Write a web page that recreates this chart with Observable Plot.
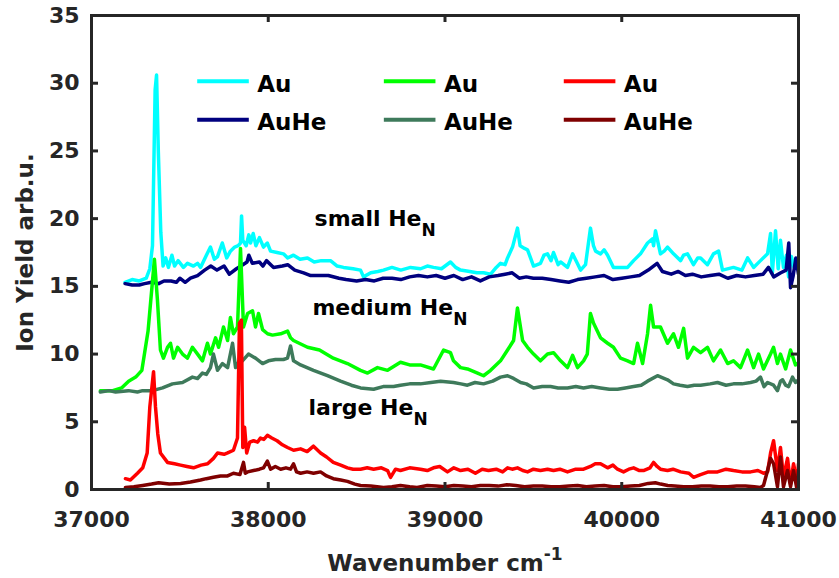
<!DOCTYPE html>
<html><head><meta charset="utf-8">
<script src="https://cdn.jsdelivr.net/npm/d3@7"></script>
<script src="https://cdn.jsdelivr.net/npm/@observablehq/plot@0.6"></script>
<style>body{margin:0;background:#fff;}</style>
</head><body><div id="chart"></div>
<script>
// ---- data: [wavenumber cm^-1, ion yield arb.u.] ----
const auSmall = [[37190,15.3],[37230,15.5],[37270,15.4],[37310,15.6],[37330,16.3],[37345,18.0],[37360,29.5],[37368,30.6],[37378,25.0],[37392,19.0],[37405,16.5],[37420,17.1],[37435,16.4],[37455,17.3],[37470,16.5],[37490,16.9],[37520,16.4],[37543,16.7],[37577,16.5],[37600,16.7],[37617,16.4],[37650,17.3],[37673,17.9],[37695,17.0],[37713,17.2],[37740,18.2],[37765,17.1],[37786,17.6],[37810,17.9],[37830,18.0],[37843,18.2],[37849,20.2],[37856,18.4],[37875,18.0],[37890,18.8],[37900,18.2],[37915,18.9],[37930,18.0],[37950,18.6],[37973,17.9],[37995,18.2],[38013,17.6],[38050,17.5],[38086,17.4],[38110,17.1],[38143,17.3],[38180,17.0],[38222,17.1],[38260,16.8],[38300,16.9],[38352,16.9],[38390,16.5],[38426,16.4],[38480,16.3],[38522,16.2],[38539,15.7],[38580,16.0],[38620,16.1],[38652,16.2],[38700,16.4],[38750,16.2],[38805,16.4],[38862,16.3],[38900,16.5],[38935,16.4],[38980,16.3],[39031,16.8],[39060,16.4],[39088,16.2],[39140,16.1],[39180,16.0],[39218,16.0],[39258,15.9],[39290,16.4],[39314,16.7],[39340,16.6],[39354,17.1],[39382,17.9],[39410,19.3],[39425,18.0],[39450,17.8],[39467,17.7],[39501,16.5],[39540,16.7],[39560,17.3],[39580,17.4],[39600,16.9],[39614,17.5],[39640,16.6],[39654,16.8],[39693,16.4],[39722,17.4],[39745,16.8],[39767,16.2],[39795,16.6],[39823,19.3],[39840,18.0],[39852,17.6],[39880,17.4],[39900,17.7],[39920,17.3],[39953,16.4],[39993,16.4],[40033,16.4],[40067,16.9],[40106,17.4],[40146,18.2],[40174,18.5],[40180,18.0],[40191,19.1],[40219,17.4],[40240,17.6],[40259,17.9],[40293,17.4],[40333,16.9],[40350,17.3],[40372,17.4],[40406,16.6],[40430,17.1],[40446,17.1],[40485,16.6],[40519,17.4],[40548,17.6],[40570,16.2],[40632,16.4],[40680,16.2],[40712,17.1],[40746,16.4],[40785,16.9],[40825,17.4],[40842,18.9],[40852,16.0],[40870,19.1],[40885,16.3],[40898,18.4],[40915,16.4],[40932,17.3],[40944,15.7],[40960,17.2],[40975,16.4],[40990,17.0],[41000,16.5]];

const auHeSmall = [[37190,15.2],[37230,15.1],[37270,15.1],[37300,15.2],[37340,15.3],[37380,15.2],[37410,15.4],[37450,15.4],[37480,15.3],[37500,15.6],[37530,15.3],[37560,15.6],[37600,15.8],[37640,16.2],[37675,16.5],[37710,16.2],[37750,16.5],[37780,15.9],[37820,16.3],[37845,16.5],[37880,16.8],[37890,17.3],[37910,16.7],[37950,16.8],[37970,16.5],[37990,16.9],[38030,16.4],[38080,16.5],[38110,16.6],[38150,16.2],[38200,16.0],[38240,15.8],[38300,15.8],[38340,15.8],[38400,15.6],[38440,15.5],[38500,15.4],[38550,15.5],[38600,15.4],[38650,15.6],[38700,15.6],[38750,15.5],[38800,15.7],[38850,15.8],[38900,15.7],[38950,15.8],[39000,15.6],[39050,15.8],[39100,15.5],[39150,15.7],[39200,15.4],[39250,15.7],[39300,15.8],[39340,15.9],[39380,16.0],[39420,15.6],[39460,15.7],[39500,15.6],[39550,15.6],[39600,15.5],[39650,15.4],[39700,15.3],[39750,15.5],[39800,15.6],[39850,15.7],[39900,15.8],[39950,15.5],[40000,15.6],[40050,15.7],[40100,15.8],[40150,16.2],[40200,16.7],[40230,16.1],[40280,15.9],[40320,16.1],[40360,15.8],[40400,15.9],[40450,15.7],[40500,15.8],[40550,15.9],[40600,15.6],[40650,15.8],[40700,15.7],[40750,15.8],[40800,15.9],[40830,16.4],[40860,15.7],[40900,16.0],[40930,16.2],[40945,18.2],[40955,14.9],[40970,15.8],[40985,17.1],[41000,15.9]];

const auMedium = [[37050,7.3],[37120,7.3],[37170,7.5],[37210,8.0],[37250,8.3],[37285,8.8],[37320,11.7],[37356,17.0],[37373,14.0],[37390,10.3],[37407,9.7],[37430,10.5],[37447,10.8],[37464,9.7],[37487,10.5],[37515,10.0],[37543,9.7],[37571,10.5],[37600,10.0],[37628,9.5],[37656,10.8],[37673,10.0],[37702,11.2],[37719,10.5],[37747,12.0],[37770,11.0],[37786,12.7],[37803,11.5],[37826,12.0],[37843,17.8],[37860,12.0],[37883,13.0],[37911,13.2],[37928,12.0],[37945,13.0],[37968,11.8],[37996,11.5],[38024,11.4],[38070,11.5],[38109,11.7],[38126,11.2],[38143,11.0],[38222,10.5],[38290,10.3],[38368,9.7],[38448,9.3],[38522,8.8],[38562,8.6],[38618,9.0],[38675,8.8],[38748,9.4],[38800,9.2],[38861,9.2],[38935,8.9],[38992,10.3],[39031,10.1],[39048,9.5],[39088,9.0],[39127,8.9],[39184,8.6],[39218,8.4],[39258,8.8],[39314,9.5],[39354,10.3],[39388,11.0],[39410,13.4],[39439,11.0],[39467,10.5],[39501,10.0],[39540,9.5],[39580,10.0],[39614,10.1],[39654,9.5],[39693,9.0],[39722,9.9],[39750,9.0],[39784,9.5],[39805,10.0],[39823,13.0],[39840,12.3],[39880,11.2],[39920,10.8],[39953,10.5],[39993,9.7],[40033,9.5],[40067,9.3],[40089,10.8],[40118,9.3],[40146,11.5],[40163,13.6],[40180,12.0],[40219,12.0],[40259,10.8],[40293,11.5],[40321,10.5],[40350,11.9],[40372,9.7],[40406,10.5],[40446,10.1],[40485,10.5],[40519,9.5],[40559,10.3],[40599,9.3],[40632,9.5],[40672,9.0],[40712,10.3],[40746,9.0],[40774,10.0],[40802,8.9],[40842,10.0],[40859,10.5],[40881,9.3],[40898,10.0],[40927,8.9],[40955,10.3],[40983,9.2],[41000,9.3]];

const auHeMedium = [[37050,7.2],[37100,7.3],[37136,7.2],[37209,7.3],[37260,7.2],[37289,7.3],[37345,7.3],[37402,7.5],[37458,7.8],[37515,7.9],[37571,8.3],[37600,8.2],[37628,8.6],[37650,8.5],[37673,9.0],[37690,10.0],[37713,8.8],[37741,9.3],[37770,9.0],[37798,10.8],[37815,9.0],[37840,9.6],[37854,9.5],[37888,10.0],[37928,9.7],[37968,9.3],[38001,9.5],[38041,9.6],[38086,9.6],[38109,9.7],[38126,10.6],[38143,9.5],[38183,9.2],[38256,8.8],[38335,8.4],[38409,8.0],[38470,7.7],[38522,7.5],[38596,7.4],[38650,7.6],[38709,7.6],[38748,7.7],[38800,7.8],[38861,7.8],[38920,7.9],[38975,8.0],[39048,7.9],[39090,7.8],[39127,7.7],[39170,7.9],[39218,7.8],[39270,8.0],[39314,8.3],[39354,8.4],[39388,8.2],[39428,7.9],[39460,7.8],[39501,7.5],[39550,7.6],[39597,7.6],[39640,7.5],[39693,7.5],[39740,7.6],[39784,7.5],[39830,7.6],[39880,7.5],[39930,7.4],[39976,7.4],[40020,7.5],[40067,7.6],[40110,7.7],[40146,8.0],[40202,8.4],[40259,8.1],[40293,7.8],[40330,7.7],[40372,7.6],[40410,7.7],[40446,7.7],[40500,7.8],[40542,7.9],[40590,7.7],[40632,7.8],[40680,7.8],[40729,7.9],[40760,8.0],[40785,8.3],[40805,7.6],[40825,7.9],[40859,7.7],[40881,7.3],[40898,8.0],[40910,8.1],[40927,7.7],[40944,7.6],[40966,8.3],[40983,7.9],[41000,8.1]];

const auLarge = [[37192,0.8],[37220,0.7],[37260,1.2],[37290,1.6],[37315,2.7],[37330,6.1],[37351,8.7],[37362,6.1],[37375,4.1],[37390,2.7],[37430,2.0],[37470,1.9],[37504,1.8],[37540,1.7],[37577,1.6],[37620,1.8],[37657,1.9],[37690,2.3],[37713,2.7],[37750,2.6],[37770,2.7],[37803,2.9],[37826,3.8],[37837,12.3],[37848,12.5],[37856,3.1],[37866,4.6],[37878,2.7],[37895,3.5],[37917,3.6],[37940,3.5],[37956,3.8],[37975,3.7],[37995,4.0],[38020,3.8],[38050,3.6],[38080,3.3],[38109,3.1],[38143,2.9],[38183,3.0],[38220,2.8],[38256,3.2],[38296,2.7],[38330,2.4],[38368,2.0],[38410,1.8],[38448,1.6],[38480,1.5],[38522,1.5],[38560,1.6],[38596,1.5],[38640,1.6],[38675,1.4],[38692,0.9],[38720,1.5],[38748,1.4],[38800,1.6],[38861,1.5],[38900,1.4],[38935,1.6],[38970,1.7],[39014,1.3],[39050,1.6],[39088,1.4],[39130,1.5],[39172,1.2],[39210,1.5],[39246,1.4],[39290,1.5],[39326,1.3],[39354,1.6],[39380,1.5],[39410,1.6],[39440,1.4],[39467,1.3],[39500,1.5],[39540,1.4],[39580,1.5],[39614,1.4],[39650,1.5],[39693,1.3],[39740,1.5],[39784,1.5],[39823,1.7],[39850,1.9],[39880,1.9],[39920,1.6],[39950,1.8],[39976,1.5],[40010,1.3],[40040,1.5],[40067,1.6],[40100,1.4],[40123,1.4],[40160,1.6],[40180,2.0],[40200,1.7],[40219,1.5],[40259,1.4],[40290,1.5],[40333,1.3],[40380,1.2],[40406,0.9],[40446,1.1],[40490,1.3],[40542,1.3],[40590,1.5],[40632,1.4],[40680,1.3],[40729,1.3],[40770,1.4],[40802,1.2],[40825,1.3],[40842,2.7],[40859,3.6],[40881,1.4],[40898,3.1],[40915,0.9],[40938,2.3],[40955,0.4],[40972,1.9],[40992,0.6],[41000,1.9]];

const auHeLarge = [[37192,0.15],[37240,0.2],[37290,0.3],[37340,0.4],[37380,0.5],[37440,0.4],[37504,0.45],[37560,0.55],[37617,0.7],[37650,0.8],[37690,0.9],[37730,1.0],[37770,1.0],[37803,1.2],[37840,1.1],[37860,2.0],[37870,1.2],[37883,1.3],[37917,1.4],[37950,1.5],[37973,1.6],[37995,2.1],[38013,1.5],[38040,1.7],[38070,1.5],[38100,1.6],[38126,1.5],[38143,1.9],[38160,1.3],[38183,1.2],[38220,1.3],[38256,1.2],[38296,1.3],[38330,1.0],[38368,0.8],[38410,0.7],[38448,0.6],[38490,0.4],[38522,0.3],[38580,0.25],[38652,0.15],[38700,0.2],[38748,0.3],[38800,0.2],[38842,0.15],[38900,0.3],[38950,0.25],[39000,0.2],[39050,0.3],[39100,0.25],[39150,0.2],[39200,0.3],[39250,0.3],[39300,0.25],[39350,0.35],[39400,0.3],[39450,0.2],[39500,0.25],[39550,0.25],[39600,0.2],[39650,0.2],[39700,0.25],[39750,0.3],[39800,0.2],[39850,0.25],[39900,0.3],[39950,0.2],[40000,0.2],[40050,0.25],[40100,0.3],[40150,0.45],[40190,0.5],[40220,0.4],[40260,0.3],[40300,0.25],[40350,0.2],[40400,0.2],[40450,0.25],[40500,0.25],[40550,0.2],[40600,0.2],[40650,0.25],[40700,0.25],[40750,0.2],[40785,0.15],[40802,0.3],[40825,1.4],[40842,2.3],[40859,1.9],[40881,0.2],[40898,2.4],[40915,0.2],[40938,1.4],[40955,0.2],[40972,1.4],[40990,0.1],[41000,1.4]];

const seriesNames = ["Au", "AuHe", "Au", "AuHe", "Au", "AuHe"];
const seriesColors = ["#00FFFF", "#00007F", "#00FF00", "#3E7A5B", "#FF0000", "#7F0000"];
const seriesData = [auSmall, auHeSmall, auMedium, auHeMedium, auLarge, auHeLarge];

const xTicks = [37000, 38000, 39000, 40000, 41000];
const yTicks = [0, 5, 10, 15, 20, 25, 30, 35];
const xLabel = "Wavenumber cm";
const yLabel = "Ion Yield arb.u.";
const annoLabels = ["small He", "medium He", "large He"];
const annoX = [38262, 38250, 38228];
const annoY = [20.0, 13.4, 6.0];

// legend layout (data units, inside the axes)
const legendColX = [37598, 38654, 39672];
const legendRowY = [30.15, 27.3];
const legendLineLen = 292, legendTextGap = 340;

// ---- chart ----
const W = 839, H = 578, mL = 91, mR = 41, mT = 15, mB = 89;
const fw = W - mL - mR, fh = H - mT - mB;
const xDom = [37000, 41000], yDom = [0, 35];
const axisColor = "#262626";
const tkPx = 7;
const tkX = tkPx * (xDom[1] - xDom[0]) / fw;   // tick length in x data units
const tkY = tkPx * (yDom[1] - yDom[0]) / fh;   // tick length in y data units

const marks = [];
seriesData.forEach((d, i) => {
  marks.push(Plot.line(d.map(([x, y]) => ({x, y})), {x: "x", y: "y", stroke: seriesColors[i], strokeWidth: 3.5, strokeLinejoin: "round", clip: true}));
});

const legendRows = seriesData.map((d, i) => {
  const c = Math.floor(i / 2), r = i % 2;
  return {x1: legendColX[c], x2: legendColX[c] + legendLineLen, y: legendRowY[r], tx: legendColX[c] + legendTextGap, label: seriesNames[i], color: seriesColors[i]};
});
legendRows.forEach(r => {
  marks.push(Plot.link([r], {x1: "x1", x2: "x2", y1: "y", y2: "y", stroke: r.color, strokeWidth: 4}));
});
marks.push(Plot.text(legendRows, {x: "tx", y: "y", text: "label", textAnchor: "start", lineAnchor: "middle", dy: 3, fontSize: 23, fill: "black", fontWeight: "bold"}));

marks.push(Plot.text(annoLabels.map((t, i) => ({t, x: annoX[i], y: annoY[i]})), {x: "x", y: "y", text: "t", textAnchor: "start", lineAnchor: "middle", fontSize: 22, fill: "black", fontWeight: "bold"}));

// axes labels
marks.push(Plot.axisX(xTicks, {anchor: "bottom", tickSize: 0, tickPadding: 22, tickFormat: d => String(d), fontSize: 22, color: axisColor, label: null}));
marks.push(Plot.axisY(yTicks, {anchor: "left", tickSize: 0, tickPadding: 12, tickFormat: d => String(d), fontSize: 22, color: axisColor, label: null}));
marks.push(Plot.text([xLabel], {frameAnchor: "bottom", dy: 74, textAnchor: "middle", lineAnchor: "middle", fontSize: 23, fill: axisColor, fontWeight: "bold"}));
marks.push(Plot.text([yLabel], {frameAnchor: "left", rotate: -90, dx: -66, textAnchor: "middle", lineAnchor: "middle", fontSize: 23, fill: axisColor, fontWeight: "bold"}));

// box + inward ticks on all four sides
marks.push(Plot.ruleX(xTicks, {y1: yDom[0], y2: yDom[0] + tkY, stroke: axisColor, strokeWidth: 3}));
marks.push(Plot.ruleX(xTicks, {y1: yDom[1] - tkY, y2: yDom[1], stroke: axisColor, strokeWidth: 3}));
marks.push(Plot.ruleY(yTicks, {x1: xDom[0], x2: xDom[0] + tkX, stroke: axisColor, strokeWidth: 3}));
marks.push(Plot.ruleY(yTicks, {x1: xDom[1] - tkX, x2: xDom[1], stroke: axisColor, strokeWidth: 3}));
marks.push(Plot.frame({stroke: axisColor, strokeWidth: 3}));

const chart = Plot.plot({
  width: W, height: H,
  marginLeft: mL, marginRight: mR, marginTop: mT, marginBottom: mB,
  x: {domain: xDom, axis: null},
  y: {domain: yDom, axis: null},
  style: {fontFamily: "'DejaVu Sans', sans-serif", fontWeight: "bold", fontSize: "22px", background: "#fff", color: axisColor, overflow: "visible"},
  marks
});

// subscripts / superscripts
chart.querySelectorAll("text").forEach(t => {
  const s = t.textContent;
  if (annoLabels.includes(s)) {
    const ts = document.createElementNS("http://www.w3.org/2000/svg", "tspan");
    ts.setAttribute("dy", "10");
    ts.setAttribute("font-size", "17");
    ts.textContent = "N";
    t.appendChild(ts);
  } else if (s === xLabel) {
    const ts = document.createElementNS("http://www.w3.org/2000/svg", "tspan");
    ts.setAttribute("dy", "-11");
    ts.setAttribute("font-size", "17");
    ts.textContent = "-1";
    t.appendChild(ts);
  }
});
document.getElementById("chart").appendChild(chart);
</script></body></html>
